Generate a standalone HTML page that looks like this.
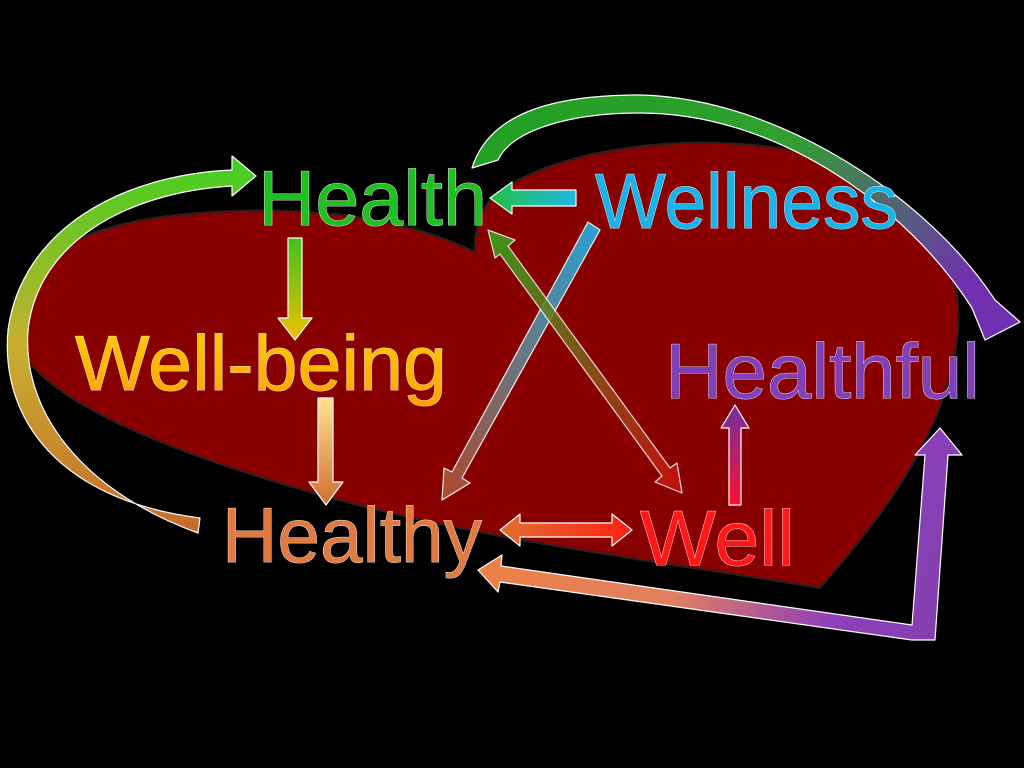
<!DOCTYPE html>
<html><head><meta charset="utf-8"><style>
html,body{margin:0;padding:0;background:#000;width:1024px;height:768px;overflow:hidden}
svg text{font-family:"Liberation Sans",sans-serif;stroke:#fff;stroke-width:0.8;paint-order:stroke}
</style></head><body>
<svg width="1024" height="768" viewBox="0 0 1024 768" xmlns="http://www.w3.org/2000/svg">
<defs>
<linearGradient id="gL" x1="0" y1="1" x2="0" y2="0"><stop offset="0" stop-color="#c86a2a"/><stop offset="0.5" stop-color="#c8b030"/><stop offset="1" stop-color="#40d020"/></linearGradient>
<linearGradient id="gT" x1="0" y1="0" x2="1" y2="0.6"><stop offset="0" stop-color="#20a020"/><stop offset="0.5" stop-color="#30a030"/><stop offset="1" stop-color="#7030b0"/></linearGradient>
<linearGradient id="gD1" x1="0" y1="0" x2="0" y2="1"><stop offset="0" stop-color="#40c020"/><stop offset="1" stop-color="#f0c000"/></linearGradient>
<linearGradient id="gD2" x1="0" y1="0" x2="0" y2="1"><stop offset="0" stop-color="#ffe090"/><stop offset="1" stop-color="#d07030"/></linearGradient>
<linearGradient id="gW" x1="1" y1="0" x2="0" y2="0"><stop offset="0" stop-color="#20b8e8"/><stop offset="1" stop-color="#20c040"/></linearGradient>
<linearGradient id="gX1" x1="1" y1="0" x2="0" y2="1"><stop offset="0" stop-color="#20b0e8"/><stop offset="1" stop-color="#b05030"/></linearGradient>
<linearGradient id="gX2" x1="0" y1="0" x2="1" y2="1"><stop offset="0" stop-color="#30b020"/><stop offset="1" stop-color="#d01010"/></linearGradient>
<linearGradient id="gH" x1="0" y1="0" x2="1" y2="0"><stop offset="0" stop-color="#e07030"/><stop offset="1" stop-color="#ff2010"/></linearGradient>
<linearGradient id="gU" x1="0" y1="1" x2="0" y2="0"><stop offset="0" stop-color="#ff1030"/><stop offset="1" stop-color="#7030a0"/></linearGradient>
<linearGradient id="gB" gradientUnits="userSpaceOnUse" x1="480" y1="450" x2="960" y2="640"><stop offset="0" stop-color="#f08040"/><stop offset="0.45" stop-color="#e08060"/><stop offset="0.75" stop-color="#9040b8"/><stop offset="1" stop-color="#8040b0"/></linearGradient>
<linearGradient id="gWB" x1="0" y1="0" x2="0" y2="1"><stop offset="0" stop-color="#ffd000"/><stop offset="1" stop-color="#ffa000"/></linearGradient>
</defs>
<!-- heart -->
<path d="M475,252 C400,215 300,205 200,213 C60,222 5,275 12,330 C25,395 160,450 320,495 C480,540 650,560 820,588 C880,520 950,430 958,330 C965,240 900,170 780,148 C650,130 530,160 490,200 C478,215 474,235 475,252 Z" fill="#880000" stroke="#222" stroke-width="2"/>
<g stroke="#fff" stroke-width="1.2" stroke-linejoin="round">
<path d="M200,518 C60,500 0,420 8,330 C22,230 120,175 232,170 L232,156 L256,176 L232,196 L232,186 C130,192 38,240 28,330 C22,410 80,490 198,533 Z" fill="url(#gL)"/>
<path d="M472,168 C490,110 560,95 640,95 C780,98 930,200 995,300 L1020,322 L985,340 L972,308 C910,210 780,113 640,113 C570,113 512,130 498,160 Z" fill="url(#gT)"/>
<path d="M288,238 L302,238 L302,318 L312,318 L295,340 L278,318 L288,318 Z" fill="url(#gD1)"/>
<path d="M318,398 L333,398 L333,482 L343,482 L326,505 L309,482 L318,482 Z" fill="url(#gD2)"/>
<path d="M576,190 L576,206 L512,206 L512,214 L490,198 L512,182 L512,190 Z" fill="url(#gW)"/>
<path d="M588,222 L600,230 L462,478 L470,483 L442,500 L444,468 L452,472 Z" fill="url(#gX1)" opacity="0.92"/>
<path d="M495,258 L488,230 L515,240 L508,246 L670,468 L677,463 L682,493 L655,482 L662,476 L500,254 Z" fill="url(#gX2)" opacity="0.85"/>
<path d="M500,530 L520,514 L520,523 L612,523 L612,514 L632,530 L612,546 L612,537 L520,537 L520,546 Z" fill="url(#gH)"/>
<path d="M729,505 L729,428 L721,428 L735,405 L749,428 L741,428 L741,505 Z" fill="url(#gU)"/>
<path d="M948,455 L935,640 L912,640 L500,582 L498,592 L478,570 L502,555 L501,566 L912,625 L925,455 L915,455 L940,428 L962,455 Z" fill="url(#gB)"/>
</g>
<text x="258" y="225" font-size="78" fill="#20c020" textLength="229" lengthAdjust="spacingAndGlyphs">Health</text>
<text x="595" y="228" font-size="78" fill="#18b4ea" textLength="303" lengthAdjust="spacingAndGlyphs">Wellness</text>
<text x="75" y="390" font-size="78" fill="url(#gWB)" textLength="372" lengthAdjust="spacingAndGlyphs">Well-being</text>
<text x="665" y="398" font-size="78" fill="#8040b8" textLength="315" lengthAdjust="spacingAndGlyphs">Healthful</text>
<text x="222" y="562" font-size="78" fill="#e07a40" textLength="260" lengthAdjust="spacingAndGlyphs">Healthy</text>
<text x="640" y="565" font-size="78" fill="#ff1818" textLength="155" lengthAdjust="spacingAndGlyphs">Well</text>
</svg>
</body></html>
